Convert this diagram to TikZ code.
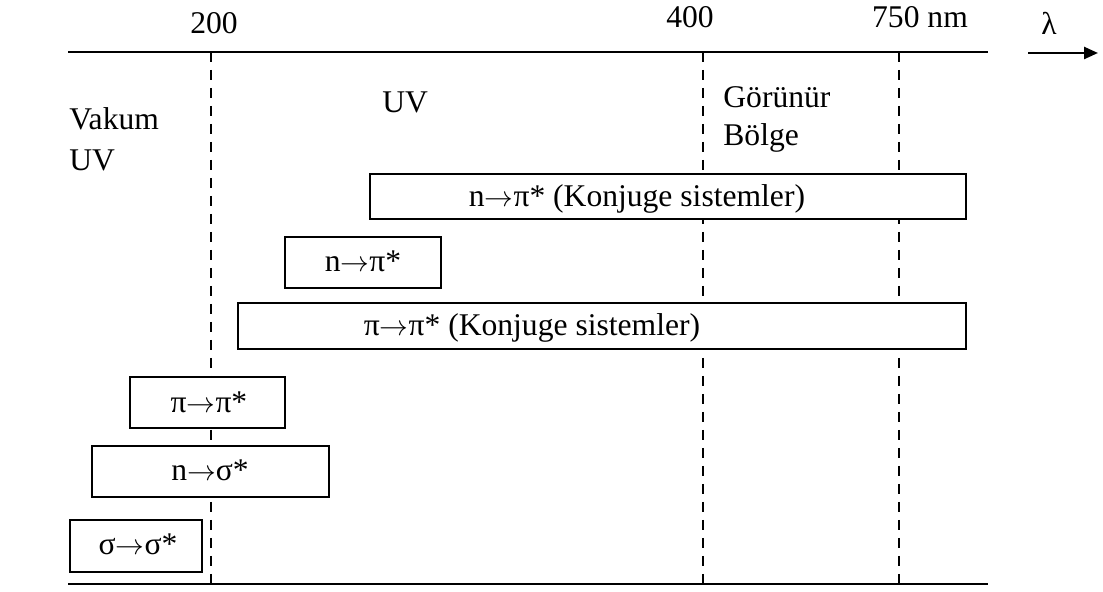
\documentclass[tikz,border=0pt]{standalone}
\usepackage{fontspec}
\setmainfont{Liberation Serif}
\usetikzlibrary{arrows.meta,fit}
\newcommand{\tra}{\ensuremath{\rightarrow}}
\tikzset{
  axis/.style={line width=1.2pt},
  limit/.style={line width=1pt, dash pattern=on 5pt off 4pt},
  band/.style={draw, fill=white, line width=0.9pt, inner sep=0pt, fit={#1}},
  lbl/.style={anchor=base, inner sep=0pt, font=\fontsize{15.8}{19}\selectfont},
  lblw/.style={lbl, anchor=base west},
}
\begin{document}
\begin{tikzpicture}[x=0.5pt,y=-0.5pt]
    \useasboundingbox (0,0) rectangle (1103,592);
    % axes
    \coordinate (tl) at (68,52);
    \coordinate (tr) at (988,52);
    \coordinate (bl) at (68,584);
    \coordinate (br) at (988,584);
    \draw[axis] (tl) -- (tr);
    \draw[axis] (bl) -- (br);
    % region limits
    \coordinate (a200) at (211,52);
    \coordinate (b200) at (211,584);
    \coordinate (a400) at (703,52);
    \coordinate (b400) at (703,584);
    \coordinate (a750) at (899,52);
    \coordinate (b750) at (899,584);
    \draw[limit] (a200) -- (b200);
    \draw[limit] (a400) -- (b400);
    \draw[limit] (a750) -- (b750);
    % scale labels
    \node[lbl] (l200) at (214,34) {200};
    \node[lbl] (l400) at (690,28) {400};
    \node[lbl] (l750) at (920,28) {750 nm};
    \node[lbl] (lam) at (1049,35) {λ};
    \coordinate (wa) at (1028,53);
    \coordinate (wb) at (1098,53);
    \draw[axis, -{Triangle[length=7pt,width=6pt]}] (wa) -- (wb);
    % regions
    \node[lblw] (vak) at (69,130) {Vakum};
    \node[lblw] (vuv) at (69,171) {UV};
    \node[lblw] (uv) at (382,113) {UV};
    \node[lblw] (gor) at (723,108) {Görünür};
    \node[lblw] (bol) at (723,146) {Bölge};
    % transitions
    \node[band={(370,174) (966,219)}] (nps) {};
    \node[lbl] at (637,207) {n\tra π* (Konjuge sistemler)};
    \node[band={(285,237) (441,288)}] (np) {};
    \node[lbl] at (363,272) {n\tra π*};
    \node[band={(238,303) (966,349)}] (pps) {};
    \node[lbl] at (532,336) {π\tra π* (Konjuge sistemler)};
    \node[band={(130,377) (285,428)}] (pp) {};
    \node[lbl] at (209,413) {π\tra π*};
    \node[band={(92,446) (329,497)}] (ns) {};
    \node[lbl] at (210,481) {n\tra σ*};
    \node[band={(70,520) (202,572)}] (ss) {};
    \node[lbl] at (138,555) {σ\tra σ*};
\end{tikzpicture}
\end{document}
